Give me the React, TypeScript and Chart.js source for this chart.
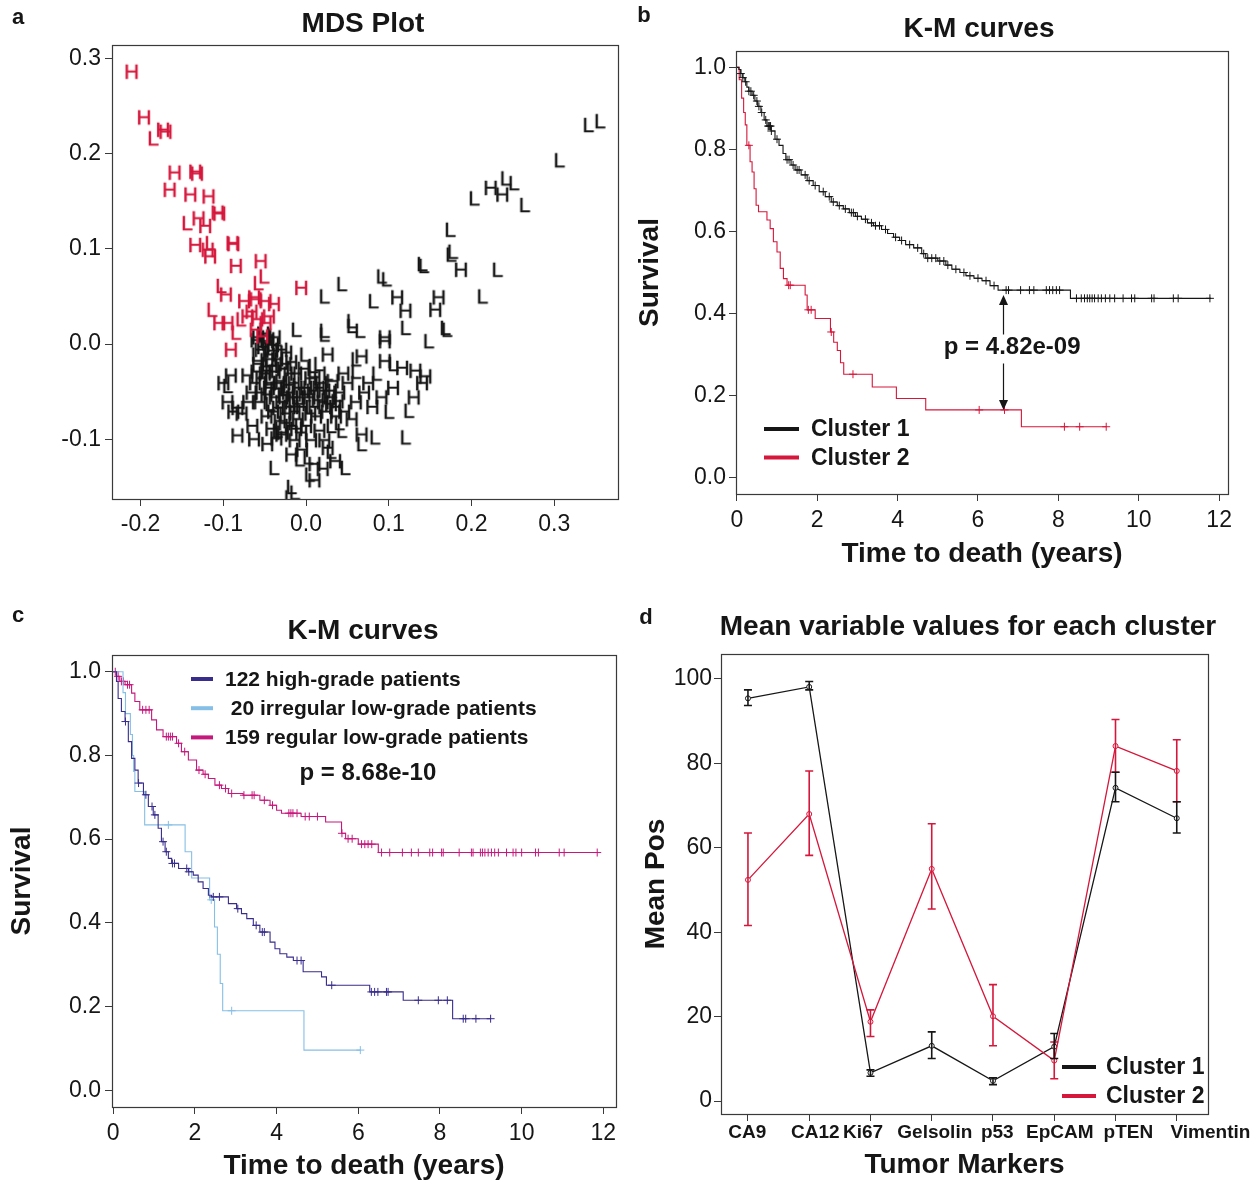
import React, { useEffect, useRef } from "react";
import { Chart, registerables } from "chart.js";

Chart.register(...registerables);

const FONT = '"Liberation Sans", Arial, Helvetica, sans-serif';
const INK = "#161616";
const AXIS = "#3a3a3a";
const RED = "#d5173b";
const C_DARK = "#382c8c";
const C_LIGHT = "#86bfe6";
const C_MAGENTA = "#c6177c";

type Pt = [number, number];

// ---------------- Panel a: MDS plot ----------------
const MDS_X_TICKS = [-0.2, -0.1, 0.0, 0.1, 0.2, 0.3];
const MDS_Y_TICKS = [-0.1, 0.0, 0.1, 0.2, 0.3];

const MDS_RED_H: Pt[] = [
  [-0.211, 0.287], [-0.196, 0.239], [-0.173, 0.226], [-0.17, 0.224], [-0.159, 0.181], [-0.134, 0.182],
  [-0.132, 0.18], [-0.165, 0.163], [-0.14, 0.158], [-0.118, 0.156], [-0.107, 0.139], [-0.105, 0.138],
  [-0.13, 0.133], [-0.122, 0.125], [-0.134, 0.105], [-0.116, 0.093], [-0.119, 0.1], [-0.089, 0.107],
  [-0.088, 0.106], [-0.085, 0.083], [-0.055, 0.088], [-0.006, 0.06], [-0.097, 0.053], [-0.075, 0.046],
  [-0.063, 0.05], [-0.061, 0.048], [-0.049, 0.046], [-0.039, 0.043], [-0.105, 0.023], [-0.095, 0.023],
  [-0.071, 0.03], [-0.059, 0.027], [-0.049, 0.023], [-0.061, 0.016], [-0.091, -0.005], [-0.053, 0.009],
  [-0.066, 0.035], [-0.045, 0.03],
];
const MDS_RED_L: Pt[] = [
  [-0.185, 0.217], [-0.144, 0.128], [-0.116, 0.107], [-0.051, 0.072], [-0.103, 0.062], [-0.114, 0.037],
  [-0.079, 0.027], [-0.085, 0.013], [-0.058, 0.065],
];
const MDS_BLACK_H: Pt[] = [
  [-0.091, -0.032], [-0.071, -0.032], [-0.047, -0.027], [-0.03, -0.038], [0.01, -0.034], [0.03, -0.048],
  [0.038, -0.059], [0.091, -0.055], [0.026, -0.01], [0.067, -0.012], [0.095, -0.017], [0.116, -0.024],
  [0.132, -0.027], [0.144, -0.033], [0.095, 0.004], [0.095, 0.008], [0.11, 0.05], [0.12, 0.036],
  [0.16, 0.05], [0.156, 0.037], [0.187, 0.079], [0.223, 0.165], [0.237, 0.158],
  [-0.083, -0.066], [-0.088, -0.07], [-0.078, -0.072], [-0.083, -0.095], [-0.063, -0.099], [-0.047, -0.104],
  [-0.03, -0.094], [-0.014, -0.1], [0.006, -0.1], [0.026, -0.108], [0.067, -0.094], [-0.018, -0.115],
  [0.01, -0.125], [0.035, -0.122], [0.01, -0.142], [-0.005, -0.11], [0.02, -0.13],
  [-0.06, 0.005], [-0.055, -0.005], [-0.05, 0.01], [-0.045, -0.01], [-0.04, 0.0], [-0.058, -0.02],
  [-0.05, -0.03], [-0.042, -0.022], [-0.035, -0.015], [-0.03, -0.005], [-0.025, -0.02], [-0.02, -0.03],
  [-0.062, -0.04], [-0.055, -0.05], [-0.045, -0.045], [-0.038, -0.055], [-0.03, -0.06], [-0.022, -0.05],
  [-0.015, -0.04], [-0.01, -0.055], [-0.005, -0.065], [0.0, -0.045], [0.005, -0.035], [0.015, -0.045],
  [0.02, -0.06], [0.025, -0.07], [0.035, -0.065], [0.04, -0.05], [-0.04, -0.07], [-0.032, -0.08],
  [-0.025, -0.072], [-0.018, -0.085], [-0.01, -0.078], [0.0, -0.085], [0.012, -0.075], [0.05, -0.04],
  [0.06, -0.06], [0.045, -0.03], [0.075, -0.04], [0.08, -0.065], [0.105, -0.045], [0.13, -0.055],
  [0.14, -0.04], [-0.1, -0.04], [-0.095, -0.06], [-0.07, -0.06], [-0.065, -0.085],
  [-0.058, 0.008], [-0.052, -0.002], [-0.047, 0.004], [-0.043, -0.015], [-0.038, -0.028], [-0.033, -0.04],
  [-0.028, -0.025], [-0.024, -0.008], [-0.018, -0.018], [-0.012, -0.03], [-0.008, -0.045], [-0.003, -0.025],
  [0.004, -0.055], [0.01, -0.065], [0.018, -0.04], [0.028, -0.055], [0.032, -0.038], [-0.056, -0.06],
  [-0.048, -0.075], [-0.042, -0.088], [-0.036, -0.098], [-0.028, -0.092], [-0.02, -0.065], [-0.014, -0.07],
  [-0.006, -0.092], [0.016, -0.09], [0.022, -0.1], [0.046, -0.07], [0.055, -0.078], [0.07, -0.05],
  [-0.052, 0.012], [-0.046, 0.002], [-0.041, -0.006], [-0.054, -0.035], [-0.048, -0.052], [-0.044, -0.04],
  [-0.036, -0.046], [-0.027, -0.052], [-0.021, -0.042], [-0.017, -0.055], [-0.009, -0.062], [-0.002, -0.052],
  [0.008, -0.048], [0.014, -0.058], [0.022, -0.048], [0.03, -0.062], [-0.034, -0.066], [-0.026, -0.082],
  [-0.012, -0.088], [0.005, -0.072], [-0.06, -0.028], [-0.066, -0.05], [0.036, -0.075], [-0.038, 0.008],
];
const MDS_BLACK_L: Pt[] = [
  [0.341, 0.231], [0.355, 0.235], [0.306, 0.194], [0.203, 0.154], [0.241, 0.175], [0.251, 0.17],
  [0.264, 0.147], [0.174, 0.121], [0.175, 0.095], [0.177, 0.098], [0.231, 0.079], [0.14, 0.085],
  [0.142, 0.083], [0.091, 0.072], [0.097, 0.069], [0.213, 0.051], [0.022, 0.051], [0.043, 0.064],
  [0.081, 0.046], [0.12, 0.018], [0.168, 0.018], [0.17, 0.016], [0.055, 0.025], [0.065, 0.015],
  [0.022, 0.015], [0.148, 0.004], [-0.012, 0.016], [0.022, 0.011], [0.055, 0.02], [0.124, -0.069],
  [0.043, -0.09], [0.083, -0.097], [0.12, -0.097], [0.067, -0.104], [-0.039, -0.129], [0.002, -0.118],
  [0.047, -0.129], [-0.018, -0.149], [-0.014, -0.155], [-0.095, -0.043], [-0.02, -0.16], [0.105, -0.02],
  [0.06, -0.015], [0.015, -0.02], [-0.035, -0.09], [0.03, -0.085], [-0.06, -0.01], [-0.045, -0.035],
  [-0.05, -0.016], [-0.036, 0.006], [-0.026, -0.046], [-0.016, -0.058], [-0.002, -0.01], [0.008, -0.022],
  [0.026, -0.03], [0.04, -0.082], [-0.044, -0.062], [-0.008, -0.12], [0.004, -0.136], [0.03, -0.112],
  [0.06, -0.028], [0.085, -0.03], [0.1, -0.07],
];

// ---------------- Panels b and c: Kaplan-Meier ----------------
const KM_X_TICKS = [0, 2, 4, 6, 8, 10, 12];
const KM_Y_TICKS = [0, 0.2, 0.4, 0.6, 0.8, 1.0];

// (time, survival) after each event
const B_CLUSTER1: Pt[] = [
  [0, 1], [0.05, 0.995], [0.1, 0.985], [0.15, 0.975], [0.2, 0.965], [0.25, 0.952], [0.3, 0.942],
  [0.38, 0.932], [0.45, 0.918], [0.52, 0.905], [0.6, 0.89], [0.68, 0.872], [0.75, 0.857], [0.85, 0.845],
  [0.95, 0.825], [1.05, 0.81], [1.15, 0.79], [1.22, 0.775], [1.35, 0.762], [1.45, 0.75], [1.6, 0.738],
  [1.75, 0.724], [1.9, 0.712], [2.05, 0.697], [2.2, 0.685], [2.35, 0.672], [2.5, 0.663], [2.65, 0.655],
  [2.8, 0.646], [2.95, 0.637], [3.1, 0.63], [3.25, 0.621], [3.4, 0.614], [3.6, 0.605], [3.75, 0.595],
  [3.9, 0.586], [4.05, 0.578], [4.2, 0.568], [4.4, 0.56], [4.6, 0.546], [4.7, 0.535], [5.0, 0.528],
  [5.2, 0.518], [5.35, 0.508], [5.55, 0.5], [5.7, 0.492], [5.9, 0.486], [6.1, 0.48], [6.3, 0.468],
  [6.5, 0.457], [8.3, 0.437], [11.8, 0.437],
];
const B_CLUSTER1_CENSOR = [
  0.1, 0.15, 0.22, 0.3, 0.35, 0.42, 0.5, 0.55, 0.62, 0.72, 0.78, 0.8, 0.82, 0.84, 0.86, 1.0, 1.25, 1.3,
  1.4, 1.5, 1.55, 1.7, 1.8, 1.95, 2.15, 2.3, 2.4, 2.55, 2.7, 2.85, 2.9, 3.0, 3.2, 3.35, 3.45, 3.55, 3.7,
  3.95, 4.1, 4.3, 4.5, 4.65, 4.75, 4.85, 4.95, 5.05, 5.15, 5.25, 5.45, 5.65, 5.8, 6.0, 6.2, 6.4, 6.7,
  6.76, 7.06, 7.28, 7.39, 7.7, 7.78, 7.86, 7.95, 8.03, 8.45, 8.57, 8.65, 8.72, 8.78, 8.84, 8.9, 8.99,
  9.07, 9.17, 9.28, 9.4, 9.61, 9.82, 9.9, 10.32, 10.38, 10.86, 10.98, 11.77,
];
const B_CLUSTER2: Pt[] = [
  [0, 1], [0.06, 0.97], [0.12, 0.925], [0.17, 0.89], [0.21, 0.86], [0.25, 0.81], [0.33, 0.77],
  [0.38, 0.745], [0.43, 0.704], [0.48, 0.664], [0.54, 0.648], [0.75, 0.628], [0.83, 0.607], [0.91, 0.575],
  [1.0, 0.55], [1.08, 0.51], [1.16, 0.485], [1.25, 0.469], [1.7, 0.445], [1.75, 0.409], [1.95, 0.388],
  [2.33, 0.355], [2.41, 0.33], [2.5, 0.31], [2.58, 0.28], [2.66, 0.252], [3.37, 0.221], [3.97, 0.193],
  [4.7, 0.165], [7.08, 0.124], [9.19, 0.124],
];
const B_CLUSTER2_CENSOR = [0.3, 1.29, 1.33, 1.78, 1.85, 2.35, 2.89, 6.03, 6.66, 8.15, 8.53, 9.19];
const B_LEGEND = ["Cluster 1", "Cluster 2"];
const B_P_TEXT = "p = 4.82e-09";
const B_P_POS: Pt = [6.85, 0.317];
const B_ARROW = { t: 6.63, top: 0.445, bottom: 0.165 };

const C_HIGH: Pt[] = [
  [0, 1], [0.08, 0.977], [0.12, 0.936], [0.2, 0.905], [0.29, 0.881], [0.37, 0.833], [0.45, 0.793],
  [0.53, 0.765], [0.61, 0.734], [0.74, 0.706], [0.86, 0.678], [0.98, 0.658], [1.1, 0.626], [1.18, 0.594],
  [1.27, 0.57], [1.35, 0.554], [1.43, 0.542], [1.6, 0.53], [1.84, 0.522], [1.96, 0.514], [2.08, 0.498],
  [2.2, 0.482], [2.33, 0.466], [2.41, 0.462], [2.82, 0.446], [3.02, 0.434], [3.14, 0.422], [3.27, 0.41],
  [3.43, 0.394], [3.59, 0.378], [3.84, 0.354], [3.96, 0.338], [4.08, 0.326], [4.25, 0.318], [4.41, 0.31],
  [4.65, 0.283], [5.1, 0.271], [5.22, 0.251], [6.28, 0.235], [7.1, 0.215], [8.31, 0.171], [9.24, 0.171],
];
const C_HIGH_CENSOR = [
  0.3, 0.62, 0.8, 0.95, 1.02, 1.22, 1.3, 1.45, 1.5, 1.8, 1.85, 2.45, 2.6, 3.05, 3.5, 3.65, 3.7, 4.5,
  4.6, 5.35, 6.32, 6.4, 6.48, 6.69, 6.73, 7.47, 7.96, 8.18, 8.57, 8.63, 8.88, 9.24,
];
const C_IRREGULAR: Pt[] = [
  [0, 1], [0.24, 0.95], [0.3, 0.9], [0.42, 0.85], [0.47, 0.8], [0.5, 0.762], [0.53, 0.714], [0.77, 0.634],
  [1.76, 0.57], [1.92, 0.507], [2.36, 0.455], [2.48, 0.39], [2.55, 0.325], [2.62, 0.255], [2.68, 0.19],
  [4.67, 0.096], [6.05, 0.096],
];
const C_IRREGULAR_CENSOR = [1.35, 2.4, 2.9, 6.05];
const C_REGULAR: Pt[] = [
  [0, 1], [0.08, 0.989], [0.16, 0.977], [0.29, 0.969], [0.45, 0.949], [0.53, 0.929], [0.65, 0.909],
  [0.94, 0.885], [1.06, 0.861], [1.22, 0.845], [1.55, 0.829], [1.67, 0.809], [1.84, 0.789], [2.04, 0.765],
  [2.2, 0.755], [2.33, 0.745], [2.49, 0.729], [2.65, 0.721], [2.82, 0.709], [3.18, 0.705], [3.59, 0.693],
  [3.84, 0.681], [4.0, 0.669], [4.12, 0.662], [4.6, 0.654], [5.2, 0.641], [5.59, 0.614], [5.69, 0.601],
  [6.0, 0.588], [6.49, 0.568], [11.85, 0.568],
];
const C_REGULAR_CENSOR = [
  0.05, 0.12, 0.2, 0.25, 0.35, 0.4, 0.72, 0.8, 0.88, 1.3, 1.35, 1.4, 1.45, 1.6, 1.75, 2.1, 2.25, 2.6,
  2.75, 2.9, 3.2, 3.4, 3.45, 3.7, 3.9, 4.3, 4.35, 4.4, 4.5, 4.7, 4.8, 5.0, 5.6, 5.75, 5.85, 6.08, 6.16,
  6.24, 6.33, 6.57, 6.77, 7.08, 7.3, 7.47, 7.75, 7.82, 8.04, 8.08, 8.47, 8.77, 8.81, 8.99, 9.04, 9.1,
  9.18, 9.26, 9.34, 9.43, 9.63, 9.79, 9.86, 10.0, 10.34, 10.41, 10.92, 11.04, 11.85,
];
const C_LEGEND = ["122 high-grade patients", " 20 irregular low-grade patients", "159 regular low-grade patients"];
const C_P_TEXT = "p = 8.68e-10";
const C_P_POS: Pt = [6.235, 0.756];

// ---------------- Panel d: mean variable values ----------------
const MARKERS = ["CA9", "CA12", "Ki67", "Gelsolin", "p53", "EpCAM", "pTEN", "Vimentin"];
const D_Y_TICKS = [0, 20, 40, 60, 80, 100];
const D_C1_MEAN = [95.4, 98.1, 6.7, 13.1, 4.8, 12.9, 74.2, 67.0];
const D_C1_LOW = [93.7, 97.4, 5.9, 10.1, 3.9, 10.1, 70.9, 63.5];
const D_C1_HIGH = [97.4, 99.4, 7.4, 16.4, 5.5, 16.0, 77.9, 70.9];
const D_C2_MEAN = [52.4, 68.0, 18.8, 55.0, 20.1, 9.6, 84.1, 78.2];
const D_C2_LOW = [41.6, 58.2, 15.3, 45.5, 13.1, 5.3, 77.9, 70.9];
const D_C2_HIGH = [63.5, 78.2, 21.6, 65.7, 27.6, 14.0, 90.4, 85.6];
const D_LEGEND = ["Cluster 1", "Cluster 2"];

// ---------------- helpers ----------------
const toXY = (p: Pt[]) => p.map(([x, y]) => ({ x, y }));
function survAt(curve: Pt[], t: number) {
  let s = curve[0][1];
  for (const [ti, si] of curve) {
    if (ti <= t + 1e-9) s = si;
    else break;
  }
  return s;
}
const censorXY = (curve: Pt[], times: number[]) => times.map((t) => ({ x: t, y: survAt(curve, t) }));
const fmt1 = (v: number) => (Math.abs(v) < 1e-9 ? 0 : v).toFixed(1);
const fmt0 = (v: number) => String(Math.round(v));

function letterIcon(ch: string, color: string): HTMLCanvasElement {
  const c = document.createElement("canvas");
  c.width = 20;
  c.height = 22;
  const g = c.getContext("2d")!;
  g.fillStyle = color;
  g.strokeStyle = color;
  g.lineWidth = 0.5;
  g.font = `21px ${FONT}`;
  g.textAlign = "center";
  g.textBaseline = "alphabetic";
  const base = 11 + 0.358 * 21;
  g.fillText(ch, 10, base);
  g.strokeText(ch, 10, base);
  return c;
}

function scale(o: any) {
  const horizontal = o.horizontal;
  return {
    type: "linear",
    position: horizontal ? "bottom" : "left",
    weight: o.weight || 0,
    min: o.min,
    max: o.max,
    afterBuildTicks: (s: any) => {
      s.ticks = o.ticks.map((v: number) => ({ value: v }));
    },
    afterFit: (s: any) => {
      if (horizontal) s.height = o.size;
      else s.width = o.size;
    },
    ticks: {
      display: o.noLabels ? false : true,
      autoSkip: false,
      maxRotation: 0,
      minRotation: 0,
      padding: o.pad || 0,
      color: INK,
      font: { family: FONT, size: o.fontSize || 23, weight: o.bold ? "bold" : "normal", lineHeight: 1 },
      callback: (v: any, i: number) => o.fmt(Number(v), i),
    },
    grid: o.noTickMarks
      ? { display: false, drawTicks: false }
      : { display: true, drawOnChartArea: false, drawTicks: true, tickLength: 7, color: AXIS, lineWidth: 1 },
    border: { display: false },
    title: o.title
      ? {
          display: true,
          text: o.title,
          color: INK,
          font: { family: FONT, size: 28, weight: "bold", lineHeight: 1 },
          padding: horizontal ? { top: 0, bottom: o.titlePad } : { top: o.titlePad, bottom: 0 },
        }
      : { display: false },
  };
}

const boxPlugin = {
  id: "box",
  afterDraw(chart: any) {
    const { ctx, chartArea: a } = chart;
    ctx.save();
    ctx.strokeStyle = AXIS;
    ctx.lineWidth = 1.2;
    ctx.strokeRect(Math.round(a.left) + 0.5, Math.round(a.top) + 0.5, Math.round(a.right - a.left), Math.round(a.bottom - a.top));
    ctx.restore();
  },
};

function legendBlock(ctx: any, items: string[], colors: string[], x0: number, x1: number, xt: number, y0: number, dy: number, size: number) {
  ctx.save();
  ctx.font = `bold ${size}px ${FONT}`;
  ctx.textBaseline = "middle";
  ctx.textAlign = "left";
  items.forEach((lab, i) => {
    const yy = y0 + i * dy;
    ctx.strokeStyle = colors[i];
    ctx.lineWidth = 4;
    ctx.beginPath();
    ctx.moveTo(x0, yy);
    ctx.lineTo(x1, yy);
    ctx.stroke();
    ctx.fillStyle = INK;
    ctx.fillText(lab, xt, yy + 1);
  });
  ctx.restore();
}

const basePlugins = { legend: { display: false }, tooltip: { enabled: false }, title: { display: false } };

function kmLine(label: string, curve: Pt[], color: string, width = 1.1) {
  return {
    label,
    data: toXY(curve),
    borderColor: color,
    borderWidth: width,
    stepped: "before",
    pointRadius: 0,
    fill: false,
  };
}
function kmCensor(label: string, curve: Pt[], times: number[], color: string) {
  return {
    label,
    data: censorXY(curve, times),
    showLine: false,
    borderColor: color,
    backgroundColor: color,
    pointStyle: "cross",
    pointRadius: 4,
    pointBorderWidth: 1,
  };
}

// ---------------- chart configs ----------------
function makeA(): any {
  return {
    type: "scatter",
    data: {
      datasets: [
        { label: "Cluster 2 (H)", data: toXY(MDS_RED_H), pointStyle: letterIcon("H", RED), pointRadius: 8 },
        { label: "Cluster 2 (L)", data: toXY(MDS_RED_L), pointStyle: letterIcon("L", RED), pointRadius: 8 },
        { label: "Cluster 1 (H)", data: toXY(MDS_BLACK_H), pointStyle: letterIcon("H", INK), pointRadius: 8 },
        { label: "Cluster 1 (L)", data: toXY(MDS_BLACK_L), pointStyle: letterIcon("L", INK), pointRadius: 8 },
      ],
    },
    options: {
      responsive: false,
      animation: false,
      events: [],
      layout: { padding: { top: 45, right: 10, left: 0, bottom: 0 } },
      plugins: basePlugins,
      scales: {
        x: scale({ horizontal: true, min: -0.2345, max: 0.377, ticks: MDS_X_TICKS, fmt: fmt1, size: 61, pad: 7 }),
        y: scale({ horizontal: false, min: -0.1627, max: 0.314, ticks: MDS_Y_TICKS, fmt: fmt1, size: 112, pad: 4 }),
      },
    },
    plugins: [boxPlugin],
  };
}

const bOverlay = {
  id: "bOverlay",
  afterDatasetsDraw(chart: any) {
    const { ctx, chartArea: a, scales } = chart;
    const x = scales.x;
    const y = scales.y;
    legendBlock(ctx, B_LEGEND, [INK, RED], a.left + 28, a.left + 63, a.left + 75, 429, 28.6, 23);
    const px = x.getPixelForValue(B_P_POS[0]);
    const py = y.getPixelForValue(B_P_POS[1]);
    ctx.save();
    ctx.font = `bold 24px ${FONT}`;
    ctx.fillStyle = INK;
    ctx.textAlign = "center";
    ctx.textBaseline = "middle";
    ctx.fillText(B_P_TEXT, px, py);
    const ax = Math.round(x.getPixelForValue(B_ARROW.t)) + 0.5;
    const yt = y.getPixelForValue(B_ARROW.top);
    const yb = y.getPixelForValue(B_ARROW.bottom);
    ctx.strokeStyle = INK;
    ctx.fillStyle = INK;
    ctx.lineWidth = 1.2;
    ctx.beginPath();
    ctx.moveTo(ax, yt + 8);
    ctx.lineTo(ax, py - 13);
    ctx.moveTo(ax, py + 16);
    ctx.lineTo(ax, yb - 8);
    ctx.stroke();
    ctx.beginPath();
    ctx.moveTo(ax, yt);
    ctx.lineTo(ax - 4.5, yt + 10);
    ctx.lineTo(ax + 4.5, yt + 10);
    ctx.closePath();
    ctx.fill();
    ctx.beginPath();
    ctx.moveTo(ax, yb);
    ctx.lineTo(ax - 4.5, yb - 10);
    ctx.lineTo(ax + 4.5, yb - 10);
    ctx.closePath();
    ctx.fill();
    ctx.restore();
  },
};

function makeB(): any {
  return {
    type: "line",
    data: {
      datasets: [
        kmLine("Cluster 1", B_CLUSTER1, INK),
        kmCensor("Cluster 1 censored", B_CLUSTER1, B_CLUSTER1_CENSOR, INK),
        kmLine("Cluster 2", B_CLUSTER2, RED),
        kmCensor("Cluster 2 censored", B_CLUSTER2, B_CLUSTER2_CENSOR, RED),
      ],
    },
    options: {
      responsive: false,
      animation: false,
      events: [],
      layout: { padding: { top: 51, right: 28, left: 0, bottom: 0 } },
      plugins: basePlugins,
      scales: {
        x: scale({ horizontal: true, min: -0.02, max: 12.22, ticks: KM_X_TICKS, fmt: fmt0, size: 86, pad: 8, title: "Time to death (years)", titlePad: 12 }),
        y: scale({ horizontal: false, min: -0.04, max: 1.04, ticks: KM_Y_TICKS, fmt: fmt1, size: 108, pad: 3, title: "Survival", titlePad: 8 }),
      },
    },
    plugins: [boxPlugin, bOverlay],
  };
}

const cOverlay = {
  id: "cOverlay",
  afterDatasetsDraw(chart: any) {
    const { ctx, scales } = chart;
    legendBlock(ctx, C_LEGEND, [C_DARK, C_LIGHT, C_MAGENTA], 191, 213, 225, 89, 29.2, 21);
    ctx.save();
    ctx.font = `bold 24px ${FONT}`;
    ctx.fillStyle = INK;
    ctx.textAlign = "center";
    ctx.textBaseline = "middle";
    ctx.fillText(C_P_TEXT, scales.x.getPixelForValue(C_P_POS[0]), scales.y.getPixelForValue(C_P_POS[1]));
    ctx.restore();
  },
};

function makeC(): any {
  return {
    type: "line",
    data: {
      datasets: [
        kmLine("122 high-grade patients", C_HIGH, C_DARK),
        kmCensor("high-grade censored", C_HIGH, C_HIGH_CENSOR, C_DARK),
        kmLine("20 irregular low-grade patients", C_IRREGULAR, C_LIGHT),
        kmCensor("irregular censored", C_IRREGULAR, C_IRREGULAR_CENSOR, C_LIGHT),
        kmLine("159 regular low-grade patients", C_REGULAR, C_MAGENTA),
        kmCensor("regular censored", C_REGULAR, C_REGULAR_CENSOR, C_MAGENTA),
      ],
    },
    options: {
      responsive: false,
      animation: false,
      events: [],
      layout: { padding: { top: 65, right: 12, left: 0, bottom: 0 } },
      plugins: basePlugins,
      scales: {
        x: scale({ horizontal: true, min: -0.03, max: 12.31, ticks: KM_X_TICKS, fmt: fmt0, size: 73, pad: 8, title: "Time to death (years)", titlePad: 0 }),
        y: scale({ horizontal: false, min: -0.04, max: 1.04, ticks: KM_Y_TICKS, fmt: fmt1, size: 112, pad: 4, title: "Survival", titlePad: 8 }),
      },
    },
    plugins: [boxPlugin, cOverlay],
  };
}

const errorBars = {
  id: "errorBars",
  afterDatasetsDraw(chart: any) {
    const { ctx, scales } = chart;
    const x = scales.x;
    const y = scales.y;
    ctx.save();
    chart.data.datasets.forEach((ds: any) => {
      if (!ds.errorLow) return;
      ctx.strokeStyle = ds.borderColor;
      ctx.lineWidth = 1.6;
      ds.errorLow.forEach((lo: number, i: number) => {
        const px = x.getPixelForValue(i + 1);
        const y1 = y.getPixelForValue(lo);
        const y2 = y.getPixelForValue(ds.errorHigh[i]);
        ctx.beginPath();
        ctx.moveTo(px, y1);
        ctx.lineTo(px, y2);
        ctx.moveTo(px - 4, y1);
        ctx.lineTo(px + 4, y1);
        ctx.moveTo(px - 4, y2);
        ctx.lineTo(px + 4, y2);
        ctx.stroke();
      });
    });
    ctx.restore();
    legendBlock(ctx, D_LEGEND, [INK, RED], 434, 468, 478, 477, 29, 23);
  },
};

// where each marker name is centred (in x units); the figure nudges the last names right
const D_NAME_AT = [0.99, 2.1, 2.88, 4.05, 5.07, 6.09, 7.21, 8.55];

function makeD(): any {
  const series = (label: string, mean: number[], lo: number[], hi: number[], color: string) => ({
    label,
    data: mean.map((v, i) => ({ x: i + 1, y: v })),
    errorLow: lo,
    errorHigh: hi,
    borderColor: color,
    borderWidth: 1.3,
    pointRadius: 2.5,
    pointBorderWidth: 1,
    pointBackgroundColor: "#ffffff",
    pointBorderColor: color,
    tension: 0,
    fill: false,
  });
  return {
    type: "line",
    data: {
      datasets: [
        series("Cluster 2", D_C2_MEAN, D_C2_LOW, D_C2_HIGH, RED),
        series("Cluster 1", D_C1_MEAN, D_C1_LOW, D_C1_HIGH, INK),
      ],
    },
    options: {
      responsive: false,
      animation: false,
      events: [],
      layout: { padding: { top: 64, right: 48, left: 0, bottom: 0 } },
      plugins: basePlugins,
      scales: {
        x: scale({
          horizontal: true, weight: 0, min: 0.56, max: 8.51, ticks: MARKERS.map((_, i) => i + 1),
          fmt: () => "", size: 8, noLabels: true,
        }),
        xNames: scale({
          horizontal: true, weight: 1, min: 0.56, max: 8.51,
          ticks: D_NAME_AT,
          fmt: (_v: number, i: number) => MARKERS[i] || "", size: 58, pad: 1, fontSize: 19, bold: true,
          noTickMarks: true, title: "Tumor Markers", titlePad: 1,
        }),
        y: scale({ horizontal: false, min: -3.05, max: 105.9, ticks: D_Y_TICKS, fmt: fmt0, size: 93, pad: 2, title: "Mean Pos", titlePad: 14 }),
      },
    },
    plugins: [boxPlugin, errorBars],
  };
}

// ---------------- components ----------------
function ChartCanvas(props: { left: number; top: number; width: number; height: number; make: () => any }) {
  const ref = useRef<HTMLCanvasElement | null>(null);
  useEffect(() => {
    const chart = new Chart(ref.current as HTMLCanvasElement, props.make());
    return () => chart.destroy();
  }, []);
  return (
    <canvas
      ref={ref}
      width={props.width}
      height={props.height}
      style={{ position: "absolute", left: props.left, top: props.top, width: props.width, height: props.height }}
    />
  );
}

function Label(props: { x: number; y: number; size: number; children: any }) {
  return (
    <div
      style={{
        position: "absolute",
        left: props.x,
        top: props.y,
        transform: "translate(-50%, -50%)",
        fontFamily: FONT,
        fontWeight: "bold",
        fontSize: props.size,
        lineHeight: 1,
        color: INK,
        whiteSpace: "nowrap",
      }}
    >
      {props.children}
    </div>
  );
}

export default function App() {
  return (
    <div style={{ position: "absolute", left: 0, top: 0, width: 1256, height: 1180, background: "#ffffff", overflow: "hidden" }}>
      <ChartCanvas left={0} top={0} width={628} height={560} make={makeA} />
      <ChartCanvas left={628} top={0} width={628} height={580} make={makeB} />
      <ChartCanvas left={0} top={590} width={628} height={590} make={makeC} />
      <ChartCanvas left={628} top={590} width={628} height={590} make={makeD} />

      <Label x={18} y={17} size={22}>a</Label>
      <Label x={644} y={15} size={22}>b</Label>
      <Label x={18} y={615} size={22}>c</Label>
      <Label x={646} y={617} size={22}>d</Label>

      <Label x={363} y={23} size={28}>MDS Plot</Label>
      <Label x={979} y={28} size={28}>K-M curves</Label>
      <Label x={363} y={630} size={28}>K-M curves</Label>
      <Label x={968} y={626} size={28}>Mean variable values for each cluster</Label>
    </div>
  );
}
